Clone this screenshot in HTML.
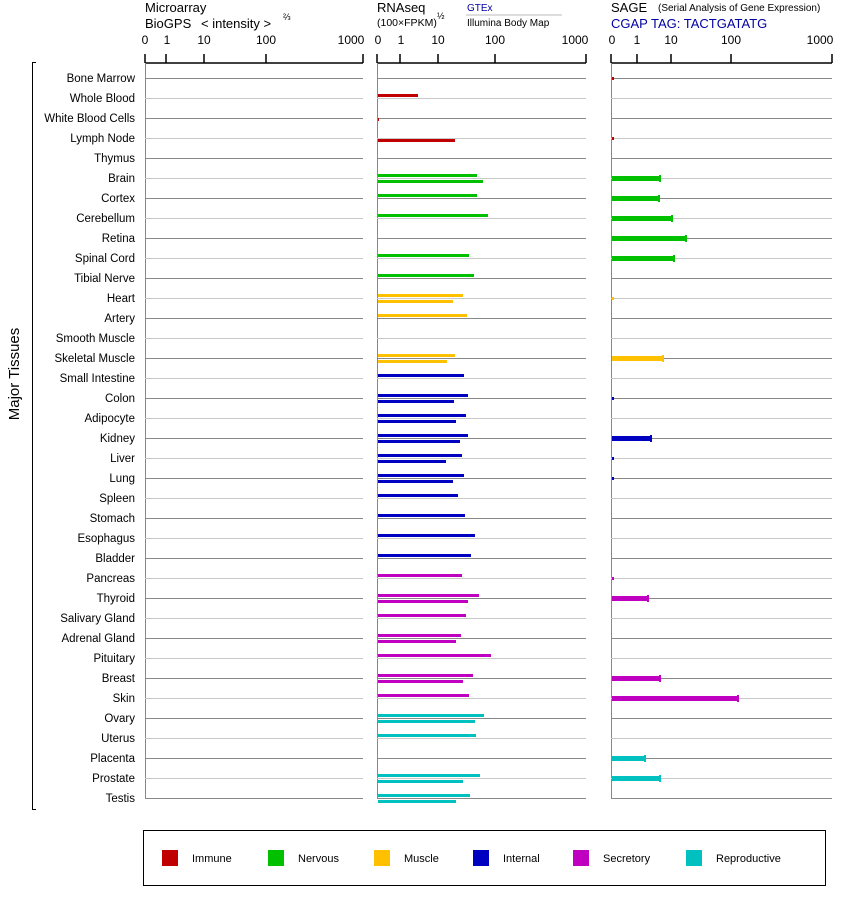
<!DOCTYPE html>
<html><head><meta charset="utf-8"><style>
body{margin:0;background:#fff}
svg{display:block;font-family:"Liberation Sans",sans-serif}
</style></head><body>
<svg width="842" height="900" viewBox="0 0 842 900" xmlns="http://www.w3.org/2000/svg">
<!-- headers -->
<text x="145" y="12" font-size="13">Microarray</text>
<text x="145" y="28" font-size="13">BioGPS</text>
<text x="201" y="28" font-size="13">&lt; intensity &gt;</text>
<text x="283" y="20" font-size="9">⅔</text>
<text x="377" y="12" font-size="13">RNAseq</text>
<text x="377" y="26" font-size="10.5">(100×FPKM)</text>
<text x="437" y="19" font-size="9">½</text>
<text x="467" y="11" font-size="10" fill="#0000a0">GTEx</text>
<line x1="466" y1="15" x2="562" y2="15" stroke="#bbb"/>
<text x="467" y="26" font-size="10">Illumina Body Map</text>
<text x="611" y="12" font-size="13">SAGE</text>
<text x="658" y="11" font-size="10">(Serial Analysis of Gene Expression)</text>
<text x="611" y="28" font-size="13" fill="#0000a0">CGAP TAG: TACTGATATG</text>
<!-- axes -->
<g font-size="12" text-anchor="middle">
<text x="145" y="44">0</text><text x="167" y="44">1</text><text x="204" y="44">10</text><text x="266" y="44">100</text><text x="351" y="44">1000</text>
<text x="378" y="44">0</text><text x="401" y="44">1</text><text x="438" y="44">10</text><text x="495" y="44">100</text><text x="575" y="44">1000</text>
<text x="612" y="44">0</text><text x="637" y="44">1</text><text x="671" y="44">10</text><text x="731" y="44">100</text><text x="820" y="44">1000</text>
</g>
<g stroke="#000" stroke-width="1.5" fill="none">
<path d="M145 63H363M145 54V63M166 54V63M204 54V63M266 54V63M363 54V63"/>
<path d="M377 63H586M377 54V63M400 54V63M438 54V63M495 54V63M586 54V63"/>
<path d="M611 63H832M611 54V63M637 54V63M671 54V63M731 54V63M832 54V63"/>
</g>
<g stroke="#888" stroke-width="1">
<path d="M145.5 63V799M377.5 63V799M611.5 63V799"/>
</g>
<!-- grid lines -->
<g transform="translate(0,0.5)">
<path stroke="#888" stroke-width="1" fill="none" d="
M145 78H363M377 78H586M611 78H832
M145 118H363M377 118H586M611 118H832
M145 158H363M377 158H586M611 158H832
M145 198H363M377 198H586M611 198H832
M145 238H363M377 238H586M611 238H832
M145 278H363M377 278H586M611 278H832
M145 318H363M377 318H586M611 318H832
M145 358H363M377 358H586M611 358H832
M145 398H363M377 398H586M611 398H832
M145 438H363M377 438H586M611 438H832
M145 478H363M377 478H586M611 478H832
M145 518H363M377 518H586M611 518H832
M145 558H363M377 558H586M611 558H832
M145 598H363M377 598H586M611 598H832
M145 638H363M377 638H586M611 638H832
M145 678H363M377 678H586M611 678H832
M145 718H363M377 718H586M611 718H832
M145 758H363M377 758H586M611 758H832
M145 798H363M377 798H586M611 798H832"/>
<path stroke="#c8c8c8" stroke-width="1" fill="none" d="
M145 98H363M377 98H586M611 98H832
M145 138H363M377 138H586M611 138H832
M145 178H363M377 178H586M611 178H832
M145 218H363M377 218H586M611 218H832
M145 258H363M377 258H586M611 258H832
M145 298H363M377 298H586M611 298H832
M145 338H363M377 338H586M611 338H832
M145 378H363M377 378H586M611 378H832
M145 418H363M377 418H586M611 418H832
M145 458H363M377 458H586M611 458H832
M145 498H363M377 498H586M611 498H832
M145 538H363M377 538H586M611 538H832
M145 578H363M377 578H586M611 578H832
M145 618H363M377 618H586M611 618H832
M145 658H363M377 658H586M611 658H832
M145 698H363M377 698H586M611 698H832
M145 738H363M377 738H586M611 738H832
M145 778H363M377 778H586M611 778H832"/>
</g>
<!-- labels -->
<g font-size="11.5" text-anchor="end">
<text x="135" y="82">Bone Marrow</text>
<text x="135" y="102">Whole Blood</text>
<text x="135" y="122">White Blood Cells</text>
<text x="135" y="142">Lymph Node</text>
<text x="135" y="162">Thymus</text>
<text x="135" y="182">Brain</text>
<text x="135" y="202">Cortex</text>
<text x="135" y="222">Cerebellum</text>
<text x="135" y="242">Retina</text>
<text x="135" y="262">Spinal Cord</text>
<text x="135" y="282">Tibial Nerve</text>
<text x="135" y="302">Heart</text>
<text x="135" y="322">Artery</text>
<text x="135" y="342">Smooth Muscle</text>
<text x="135" y="362">Skeletal Muscle</text>
<text x="135" y="382">Small Intestine</text>
<text x="135" y="402">Colon</text>
<text x="135" y="422">Adipocyte</text>
<text x="135" y="442">Kidney</text>
<text x="135" y="462">Liver</text>
<text x="135" y="482">Lung</text>
<text x="135" y="502">Spleen</text>
<text x="135" y="522">Stomach</text>
<text x="135" y="542">Esophagus</text>
<text x="135" y="562">Bladder</text>
<text x="135" y="582">Pancreas</text>
<text x="135" y="602">Thyroid</text>
<text x="135" y="622">Salivary Gland</text>
<text x="135" y="642">Adrenal Gland</text>
<text x="135" y="662">Pituitary</text>
<text x="135" y="682">Breast</text>
<text x="135" y="702">Skin</text>
<text x="135" y="722">Ovary</text>
<text x="135" y="742">Uterus</text>
<text x="135" y="762">Placenta</text>
<text x="135" y="782">Prostate</text>
<text x="135" y="802">Testis</text>
</g>
<path d="M36 62.5H32.5V809.5H36" stroke="#000" fill="none"/>
<text transform="translate(19,374) rotate(-90)" font-size="15" text-anchor="middle">Major Tissues</text>
<!-- RNAseq bars -->
<g fill="#c00000">
<rect x="378" y="94" width="40" height="3"/>
<rect x="378" y="118" width="1" height="3"/>
<rect x="378" y="139" width="77" height="3"/>
</g>
<g fill="#00c000">
<rect x="378" y="174" width="99" height="3"/><rect x="378" y="180" width="105" height="3"/>
<rect x="378" y="194" width="99" height="3"/>
<rect x="378" y="214" width="110" height="3"/>
<rect x="378" y="254" width="91" height="3"/>
<rect x="378" y="274" width="96" height="3"/>
</g>
<g fill="#ffc000">
<rect x="378" y="294" width="85" height="3"/><rect x="378" y="300" width="75" height="3"/>
<rect x="378" y="314" width="89" height="3"/>
<rect x="378" y="354" width="77" height="3"/><rect x="378" y="360" width="69" height="3"/>
</g>
<g fill="#0000c0">
<rect x="378" y="374" width="86" height="3"/>
<rect x="378" y="394" width="90" height="3"/><rect x="378" y="400" width="76" height="3"/>
<rect x="378" y="414" width="88" height="3"/><rect x="378" y="420" width="78" height="3"/>
<rect x="378" y="434" width="90" height="3"/><rect x="378" y="440" width="82" height="3"/>
<rect x="378" y="454" width="84" height="3"/><rect x="378" y="460" width="68" height="3"/>
<rect x="378" y="474" width="86" height="3"/><rect x="378" y="480" width="75" height="3"/>
<rect x="378" y="494" width="80" height="3"/>
<rect x="378" y="514" width="87" height="3"/>
<rect x="378" y="534" width="97" height="3"/>
<rect x="378" y="554" width="93" height="3"/>
</g>
<g fill="#c000c0">
<rect x="378" y="574" width="84" height="3"/>
<rect x="378" y="594" width="101" height="3"/><rect x="378" y="600" width="90" height="3"/>
<rect x="378" y="614" width="88" height="3"/>
<rect x="378" y="634" width="83" height="3"/><rect x="378" y="640" width="78" height="3"/>
<rect x="378" y="654" width="113" height="3"/>
<rect x="378" y="674" width="95" height="3"/><rect x="378" y="680" width="85" height="3"/>
<rect x="378" y="694" width="91" height="3"/>
</g>
<g fill="#00c0c0">
<rect x="378" y="714" width="106" height="3"/><rect x="378" y="720" width="97" height="3"/>
<rect x="378" y="734" width="98" height="3"/>
<rect x="378" y="774" width="102" height="3"/><rect x="378" y="780" width="85" height="3"/>
<rect x="378" y="794" width="92" height="3"/><rect x="378" y="800" width="78" height="3"/>
</g>
<!-- SAGE bars -->
<g fill="#c00000"><rect x="612" y="77" width="2" height="3"/><rect x="612" y="137" width="2" height="3"/></g>
<g fill="#00c000">
<rect x="612" y="176" width="48" height="5"/><rect x="659" y="175" width="2" height="7"/>
<rect x="612" y="196" width="47" height="5"/><rect x="658" y="195" width="2" height="7"/>
<rect x="612" y="216" width="60" height="5"/><rect x="671" y="215" width="2" height="7"/>
<rect x="612" y="236" width="74" height="5"/><rect x="685" y="235" width="2" height="7"/>
<rect x="612" y="256" width="62" height="5"/><rect x="673" y="255" width="2" height="7"/>
</g>
<g fill="#ffc000">
<rect x="612" y="297" width="2" height="3"/>
<rect x="612" y="356" width="51" height="5"/><rect x="662" y="355" width="2" height="7"/>
</g>
<g fill="#0000c0">
<rect x="612" y="397" width="2" height="3"/>
<rect x="612" y="436" width="39" height="5"/><rect x="650" y="435" width="2" height="7"/>
<rect x="612" y="457" width="2" height="3"/>
<rect x="612" y="477" width="2" height="3"/>
</g>
<g fill="#c000c0">
<rect x="612" y="577" width="2" height="3"/>
<rect x="612" y="596" width="36" height="5"/><rect x="647" y="595" width="2" height="7"/>
<rect x="612" y="676" width="48" height="5"/><rect x="659" y="675" width="2" height="7"/>
<rect x="612" y="696" width="126" height="5"/><rect x="737" y="695" width="2" height="7"/>
</g>
<g fill="#00c0c0">
<rect x="612" y="756" width="33" height="5"/><rect x="644" y="755" width="2" height="7"/>
<rect x="612" y="776" width="48" height="5"/><rect x="659" y="775" width="2" height="7"/>
</g>
<!-- legend -->
<rect x="143.5" y="830.5" width="682" height="55" fill="none" stroke="#000"/>
<g font-size="11">
<rect x="162" y="850" width="16" height="16" fill="#c00000"/><text x="192" y="862">Immune</text>
<rect x="268" y="850" width="16" height="16" fill="#00c000"/><text x="298" y="862">Nervous</text>
<rect x="374" y="850" width="16" height="16" fill="#ffc000"/><text x="404" y="862">Muscle</text>
<rect x="473" y="850" width="16" height="16" fill="#0000c0"/><text x="503" y="862">Internal</text>
<rect x="573" y="850" width="16" height="16" fill="#c000c0"/><text x="603" y="862">Secretory</text>
<rect x="686" y="850" width="16" height="16" fill="#00c0c0"/><text x="716" y="862">Reproductive</text>
</g>
</svg>
</body></html>
